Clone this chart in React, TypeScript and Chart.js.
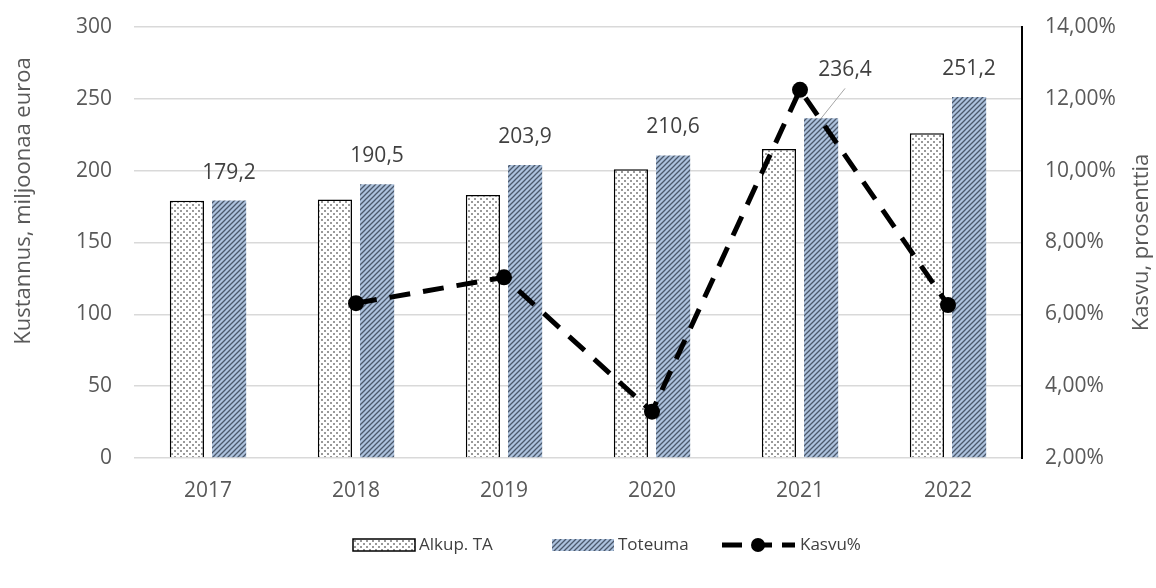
import React, { useEffect, useRef } from "react";
import { Chart, registerables } from "chart.js";

Chart.register(...registerables);

const categories = ["2017", "2018", "2019", "2020", "2021", "2022"];
const alkupTA = [179, 180, 183, 201, 215, 226];
const toteuma = [179.2, 190.5, 203.9, 210.6, 236.4, 251.2];
const kasvu: (number | null)[] = [null, 6.31, 7.03, 3.29, 12.25, 6.26];

const seriesNames = ["Alkup. TA", "Toteuma", "Kasvu%"];
const leftTitle = "Kustannus, miljoonaa euroa";
const rightTitle = "Kasvu, prosenttia";

const FONT = "'Open Sans', 'Noto Sans', sans-serif";
const TICK_COLOR = "#595959";

function makeDotPattern(ctx: CanvasRenderingContext2D) {
  const c = document.createElement("canvas");
  c.width = 6;
  c.height = 6;
  const g = c.getContext("2d")!;
  g.fillStyle = "#ffffff";
  g.fillRect(0, 0, 6, 6);
  g.fillStyle = "#9a9a9a";
  g.fillRect(0, 0, 2, 2);
  g.fillRect(3, 3, 2, 2);
  return ctx.createPattern(c, "repeat")!;
}

function makeStripePattern(ctx: CanvasRenderingContext2D) {
  const s = 5;
  const c = document.createElement("canvas");
  c.width = s;
  c.height = s;
  const g = c.getContext("2d")!;
  g.fillStyle = "#adc2dd";
  g.fillRect(0, 0, s, s);
  g.strokeStyle = "#4b586b";
  g.lineWidth = 1.3;
  g.beginPath();
  g.moveTo(-1, s + 1);
  g.lineTo(s + 1, -1);
  g.moveTo(-1, 1);
  g.lineTo(1, -1);
  g.moveTo(s - 1, s + 1);
  g.lineTo(s + 1, s - 1);
  g.stroke();
  return ctx.createPattern(c, "repeat")!;
}

export default function App() {
  const ref = useRef<HTMLCanvasElement>(null);

  useEffect(() => {
    document.body.style.margin = "0";
    const canvas = ref.current!;
    const ctx0 = canvas.getContext("2d")!;
    const dotPat = makeDotPattern(ctx0);
    const stripePat = makeStripePattern(ctx0);

    const labelPlugin = {
      id: "valueLabels",
      afterDatasetsDraw(chart: any) {
        const ctx = chart.ctx as CanvasRenderingContext2D;
        const meta = chart.getDatasetMeta(2);
        ctx.save();
        ctx.font = `21px ${FONT}`;
        ctx.fillStyle = "#404040";
        ctx.textAlign = "center";
        ctx.textBaseline = "middle";
        meta.data.forEach((el: any, i: number) => {
          const text = toteuma[i].toFixed(1).replace(".", ",");
          let x = el.x;
          let y = el.y - 28;
          if (i === 4) {
            x = el.x + 24;
            y = el.y - 48;
            ctx.strokeStyle = "#a6a6a6";
            ctx.lineWidth = 1;
            ctx.beginPath();
            ctx.moveTo(el.x, el.y);
            ctx.lineTo(x, y + 18);
            ctx.stroke();
          }
          ctx.fillText(text, x, y);
        });
        ctx.restore();
      },
    };

    const decorPlugin = {
      id: "decor",
      afterDraw(chart: any) {
        const ctx = chart.ctx as CanvasRenderingContext2D;
        const area = chart.chartArea;
        ctx.save();
        ctx.font = `22px ${FONT}`;
        ctx.fillStyle = TICK_COLOR;
        ctx.textAlign = "center";
        ctx.textBaseline = "middle";
        ctx.save();
        ctx.translate(24, 201);
        ctx.rotate(-Math.PI / 2);
        ctx.fillText(leftTitle, 0, 0);
        ctx.restore();
        ctx.save();
        ctx.translate(1142, (area.top + area.bottom) / 2);
        ctx.rotate(-Math.PI / 2);
        ctx.fillText(rightTitle, 0, 0);
        ctx.restore();

        // legend
        const ly = 545;
        ctx.font = `17px ${FONT}`;
        ctx.textAlign = "left";
        ctx.textBaseline = "middle";
        let x = 353;
        ctx.fillStyle = dotPat;
        ctx.fillRect(x, ly - 6, 62, 12);
        ctx.strokeStyle = "#000";
        ctx.lineWidth = 1.5;
        ctx.strokeRect(x, ly - 6, 62, 12);
        ctx.fillStyle = "#404040";
        ctx.fillText(seriesNames[0], x + 66, ly);
        x = 552;
        ctx.fillStyle = stripePat;
        ctx.fillRect(x, ly - 6, 62, 12);
        ctx.fillStyle = "#404040";
        ctx.fillText(seriesNames[1], x + 66, ly);
        x = 722;
        ctx.strokeStyle = "#000";
        ctx.lineWidth = 5;
        ctx.setLineDash([20, 10]);
        ctx.beginPath();
        ctx.moveTo(x, ly);
        ctx.lineTo(x + 73, ly);
        ctx.stroke();
        ctx.setLineDash([]);
        ctx.fillStyle = "#000";
        ctx.beginPath();
        ctx.arc(x + 36, ly, 7, 0, Math.PI * 2);
        ctx.fill();
        ctx.fillStyle = "#404040";
        ctx.fillText(seriesNames[2], x + 78, ly);
        ctx.restore();
      },
    };

    const chart = new Chart(canvas, {
      data: {
        labels: categories,
        datasets: [
          {
            type: "line",
            label: seriesNames[2],
            data: kasvu,
            yAxisID: "y1",
            borderColor: "#000",
            borderWidth: 5,
            borderDash: [21, 13],
            pointRadius: 8,
            pointBackgroundColor: "#000",
            pointBorderColor: "#000",
            pointBorderWidth: 0,
            order: 0,
          },
          {
            type: "bar",
            label: seriesNames[0],
            data: alkupTA,
            yAxisID: "y",
            backgroundColor: dotPat,
            borderColor: "#000",
            borderWidth: 1.5,
            categoryPercentage: 0.57,
            barPercentage: 0.81,
            order: 1,
          },
          {
            type: "bar",
            label: seriesNames[1],
            data: toteuma,
            yAxisID: "y",
            backgroundColor: stripePat,
            borderWidth: 0,
            categoryPercentage: 0.57,
            barPercentage: 0.81,
            order: 1,
          },
        ],
      } as any,
      options: {
        animation: false,
        responsive: false,
        maintainAspectRatio: false,
        layout: { padding: { top: 27, left: 0, right: 0, bottom: 0 } },
        plugins: {
          legend: { display: false },
          tooltip: { enabled: false },
        },
        scales: {
          x: {
            grid: { display: false },
            border: { display: false },
            ticks: { color: TICK_COLOR, font: { family: FONT, size: 21 }, padding: 12 },
            afterFit: (s: any) => {
              s.height = 130;
            },
          },
          y: {
            position: "left",
            min: 0,
            max: 300,
            ticks: { stepSize: 50, color: TICK_COLOR, font: { family: FONT, size: 21 }, padding: 22 },
            grid: { color: "#d9d9d9", lineWidth: 1.5, drawTicks: false },
            border: { display: false },
            afterFit: (s: any) => {
              s.width = 134;
              s.paddingTop = 0;
              s.paddingBottom = 0;
            },
          },
          y1: {
            position: "right",
            min: 2,
            max: 14,
            ticks: {
              stepSize: 2,
              color: TICK_COLOR,
              font: { family: FONT, size: 21 },
              padding: 23,
              callback: (v: any) => Number(v).toFixed(2).replace(".", ",") + "%",
            },
            grid: { display: false, drawTicks: false },
            border: { color: "#000", width: 2 },
            afterFit: (s: any) => {
              s.width = 134;
              s.paddingTop = 0;
              s.paddingBottom = 0;
            },
          },
        },
      } as any,
      plugins: [labelPlugin, decorPlugin],
    });

    return () => chart.destroy();
  }, []);

  return <canvas ref={ref} width={1156} height={588} style={{ display: "block" }} />;
}
